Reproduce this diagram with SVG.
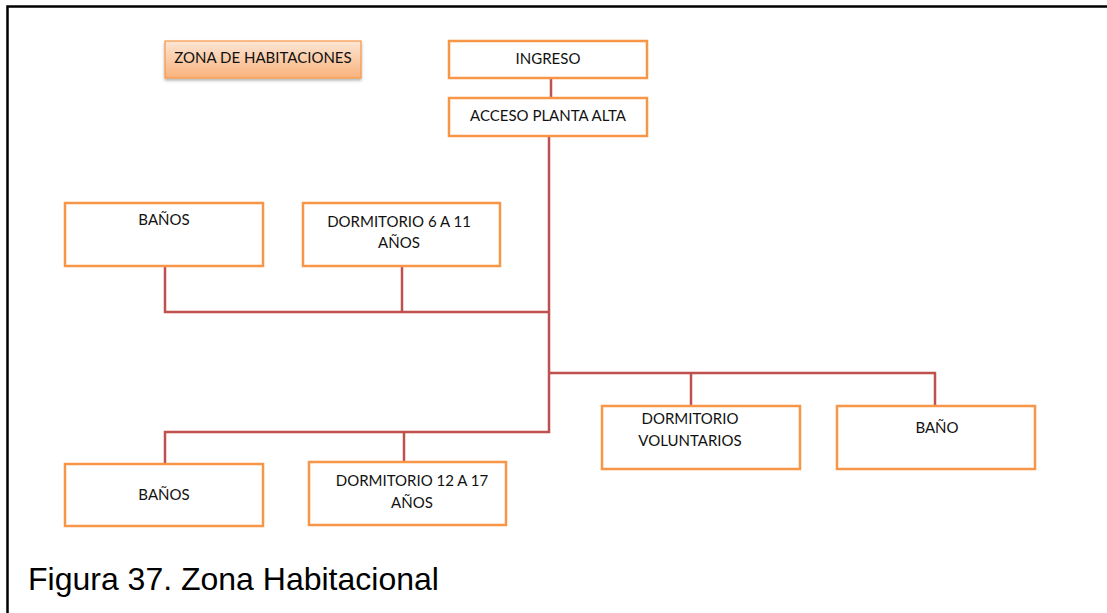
<svg xmlns="http://www.w3.org/2000/svg" width="1107" height="613" viewBox="0 0 1107 613">
<defs>
<linearGradient id="zg" x1="0" y1="0" x2="0" y2="1">
<stop offset="0" stop-color="#FDE6D4"/>
<stop offset="1" stop-color="#F9B27C"/>
</linearGradient>
<filter id="sh" x="-10%" y="-10%" width="120%" height="140%">
<feDropShadow dx="0" dy="2" stdDeviation="1.5" flood-color="#000" flood-opacity="0.3"/>
</filter>
</defs>
<style>
.box{fill:#fff;stroke:#F79646;stroke-width:2.5}
.t{font-family:Lato,"Open Sans","Liberation Sans",sans-serif;font-size:15px;fill:#111;text-anchor:middle}
.c{fill:none;stroke:#C0504D;stroke-width:2.5;stroke-linejoin:miter}
.cap{font-family:"Liberation Sans",Arial,sans-serif;font-size:32px;fill:#000}
</style>
<rect width="1107" height="613" fill="#fff"/>
<path d="M7.5 613 V6.5 H1107" fill="none" stroke="#000" stroke-width="2.5"/>
<g id="connectors">
<path class="c" d="M551 78 V98"/>
<path class="c" d="M549 136 V432 H165 V464"/>
<path class="c" d="M165 266 V312 H549"/>
<path class="c" d="M402 266 V312"/>
<path class="c" d="M549 373 H935 V406"/>
<path class="c" d="M691 373 V406"/>
<path class="c" d="M404 432 V462"/>
</g>
<g id="zona">
<rect x="165" y="41" width="196" height="37" fill="url(#zg)" stroke="#F79646" stroke-width="1.2" filter="url(#sh)"/>
<text class="t" x="263" y="63">ZONA DE HABITACIONES</text>
</g>
<g id="ingreso">
<rect class="box" x="449" y="41" width="198" height="37"/>
<text class="t" x="548" y="64">INGRESO</text>
</g>
<g id="acceso">
<rect class="box" x="449" y="98" width="198" height="38"/>
<text class="t" x="548" y="121">ACCESO PLANTA ALTA</text>
</g>
<g id="banos1">
<rect class="box" x="65" y="203" width="198" height="63"/>
<text class="t" x="164" y="225">BAÑOS</text>
</g>
<g id="dorm611">
<rect class="box" x="303" y="203" width="197" height="63"/>
<text class="t" x="399" y="227">DORMITORIO 6 A 11</text>
<text class="t" x="399" y="248">AÑOS</text>
</g>
<g id="dormvol">
<rect class="box" x="602" y="406" width="198" height="63"/>
<text class="t" x="690" y="424">DORMITORIO</text>
<text class="t" x="690" y="446">VOLUNTARIOS</text>
</g>
<g id="bano">
<rect class="box" x="837" y="406" width="198" height="63"/>
<text class="t" x="937" y="433">BAÑO</text>
</g>
<g id="banos2">
<rect class="box" x="65" y="464" width="198" height="62"/>
<text class="t" x="164" y="500">BAÑOS</text>
</g>
<g id="dorm1217">
<rect class="box" x="309" y="462" width="197" height="63"/>
<text class="t" x="412" y="486">DORMITORIO 12 A 17</text>
<text class="t" x="412" y="508">AÑOS</text>
</g>
<text class="cap" x="28" y="590">Figura 37. Zona Habitacional</text>
</svg>
